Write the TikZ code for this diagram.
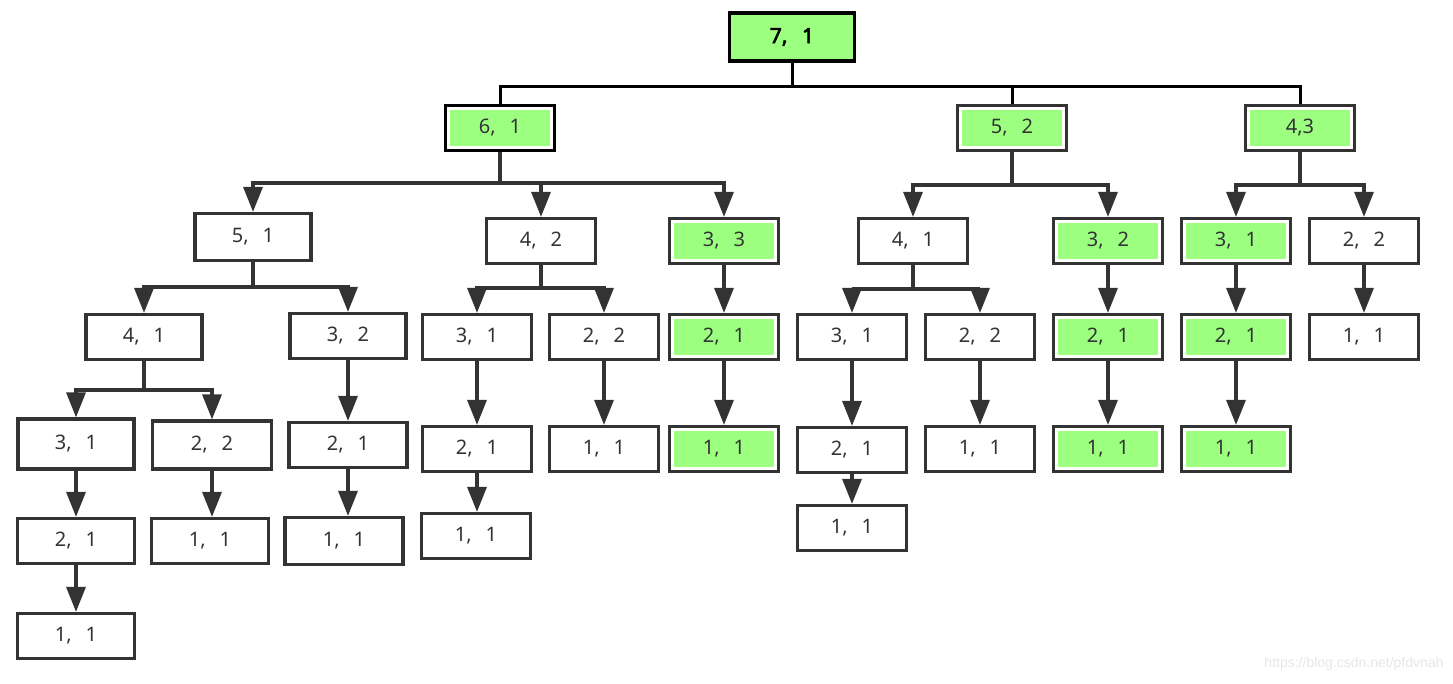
\documentclass[tikz,border=0pt]{standalone}
\usepackage{fontspec}
\newfontfamily\lblfont{Noto Sans}
\newfontfamily\lblbold{Noto Sans}[FakeBold=3]
\newfontfamily\wmfont{Liberation Sans}
\usetikzlibrary{arrows.meta,calc}
\definecolor{ink}{HTML}{333333}
\definecolor{gfill}{HTML}{9CFF80}
\definecolor{wm}{HTML}{E6E6E6}
\newcommand{\cm}{,\hspace{0.7em}}
\tikzset{
  box/.style={draw=ink, line width=3.2pt, fill=white, minimum width=109pt, minimum height=45pt,
    inner sep=0pt, font=\lblfont\fontsize{20}{22}\selectfont, text=ink},
  gbox/.style={box, path picture={\fill[gfill] ($(path picture bounding box.south west)+(4.5pt,4.5pt)$) rectangle ($(path picture bounding box.north east)-(4.5pt,4.5pt)$);}},
  rootbox/.style={box, draw=black, fill=gfill, font=\lblbold\fontsize{21}{23}\selectfont, text=black},
  link/.style={draw=ink, line width=3.2pt},
  toplink/.style={draw=black, line width=3pt},
  arr/.style={link, -{Triangle[width=19pt,length=25pt]}}
}
\begin{document}
\begin{tikzpicture}[x=1pt,y=-1pt]
\useasboundingbox (0,0) rectangle (1453,683);
% level 0
\node[rootbox, minimum width=125pt, minimum height=48pt] (r) at (792,37) {7\cm1};
% level 1
\node[gbox, draw=black] (a) at (500,128) {6\cm1};
\node[gbox] (b) at (1012,128) {5\cm2};
\node[gbox] (c) at (1300,128) {4,3};
% level 2
\node[box, minimum width=116pt, minimum height=47pt] (a1) at (253,237) {5\cm1};
\node[box] (a2) at (541,241) {4\cm2};
\node[gbox] (a3) at (724,241) {3\cm3};
\node[box] (b1) at (913,241) {4\cm1};
\node[gbox] (b2) at (1108,241) {3\cm2};
\node[gbox] (c1) at (1236,241) {3\cm1};
\node[box] (c2) at (1364,241) {2\cm2};
% level 3
\node[box, minimum width=116pt] (a11) at (144,337) {4\cm1};
\node[box, minimum width=116pt] (a12) at (348,336) {3\cm2};
\node[box] (a21) at (477,337) {3\cm1};
\node[box] (a22) at (604,337) {2\cm2};
\node[gbox] (a31) at (724,337) {2\cm1};
\node[box] (b11) at (852,337) {3\cm1};
\node[box] (b12) at (980,337) {2\cm2};
\node[gbox] (b21) at (1108,337) {2\cm1};
\node[gbox] (c11) at (1236,337) {2\cm1};
\node[box] (c21) at (1364,337) {1\cm1};
% level 4
\node[box, minimum width=116pt, minimum height=50pt] (a111) at (76,444) {3\cm1};
\node[box, minimum width=119pt, minimum height=48pt] (a112) at (212,445) {2\cm2};
\node[box, minimum width=118pt] (a121) at (348,445) {2\cm1};
\node[box] (a211) at (477,449) {2\cm1};
\node[box] (a221) at (604,449) {1\cm1};
\node[gbox] (a311) at (724,449) {1\cm1};
\node[box] (b111) at (852,450) {2\cm1};
\node[box] (b121) at (980,449) {1\cm1};
\node[gbox] (b211) at (1108,449) {1\cm1};
\node[gbox] (c111) at (1236,449) {1\cm1};
% level 5
\node[box, minimum width=117pt] (a1111) at (76,541) {2\cm1};
\node[box, minimum width=117pt] (a1121) at (210,541) {1\cm1};
\node[box, minimum width=118pt, minimum height=47pt] (a1211) at (344,541) {1\cm1};
\node[box] (a2111) at (476,536) {1\cm1};
\node[box] (b1111) at (852,528) {1\cm1};
% level 6
\node[box, minimum width=117pt] (a11111) at (76,636) {1\cm1};
% bus coordinates
\coordinate (br) at (0,86);
\coordinate (ba) at (0,183);
\coordinate (bb) at (0,185);
\coordinate (bc) at (0,185);
\coordinate (ba1) at (0,287);
\coordinate (ba2) at (0,288);
\coordinate (bb1) at (0,289);
\coordinate (ba11) at (0,390);
% root connectors (no arrows)
\draw[toplink] (r.south) -- (r.south |- br) -| (a.north);
\draw[toplink] (r.south |- br) -| (b.north);
\draw[toplink] (r.south |- br) -| (c.north);
% tree connectors
\draw[link] (a.south) -- (a.south |- ba);
\draw[arr] (a.south |- ba) -| (a1.north);
\draw[arr] (a.south |- ba) -| (a2.north);
\draw[arr] (a.south |- ba) -| (a3.north);
\draw[link] (b.south) -- (b.south |- bb);
\draw[arr] (b.south |- bb) -| (b1.north);
\draw[arr] (b.south |- bb) -| (b2.north);
\draw[link] (c.south) -- (c.south |- bc);
\draw[arr] (c.south |- bc) -| (c1.north);
\draw[arr] (c.south |- bc) -| (c2.north);
\draw[link] (a1.south) -- (a1.south |- ba1);
\draw[arr] (a1.south |- ba1) -| (a11.north);
\draw[arr] (a1.south |- ba1) -| (a12.north);
\draw[link] (a2.south) -- (a2.south |- ba2);
\draw[arr] (a2.south |- ba2) -| (a21.north);
\draw[arr] (a2.south |- ba2) -| (a22.north);
\draw[arr] (a3.south) -- (a31.north);
\draw[link] (b1.south) -- (b1.south |- bb1);
\draw[arr] (b1.south |- bb1) -| (b11.north);
\draw[arr] (b1.south |- bb1) -| (b12.north);
\draw[arr] (b2.south) -- (b21.north);
\draw[arr] (c1.south) -- (c11.north);
\draw[arr] (c2.south) -- (c21.north);
\draw[link] (a11.south) -- (a11.south |- ba11);
\draw[arr] (a11.south |- ba11) -| (a111.north);
\draw[arr] (a11.south |- ba11) -| (a112.north);
\draw[arr] (a12.south) -- (a121.north);
\draw[arr] (a21.south) -- (a211.north);
\draw[arr] (a22.south) -- (a221.north);
\draw[arr] (a31.south) -- (a311.north);
\draw[arr] (b11.south) -- (b111.north);
\draw[arr] (b12.south) -- (b121.north);
\draw[arr] (b21.south) -- (b211.north);
\draw[arr] (c11.south) -- (c111.north);
\draw[arr] (a111.south) -- (a1111.north);
\draw[arr] (a112.south) -- (a112.south |- a1121.north);
\draw[arr] (a121.south) -- (a121.south |- a1211.north);
\draw[arr] (a211.south) -- (a211.south |- a2111.north);
\draw[arr] (b111.south) -- (b1111.north);
\draw[arr] (a1111.south) -- (a11111.north);
% watermark
\node[text=wm, font=\wmfont\fontsize{14}{16}\selectfont, anchor=east] (wmk) at (1447,664) {https://blog.csdn.net/pfdvnah};
\end{tikzpicture}
\end{document}
